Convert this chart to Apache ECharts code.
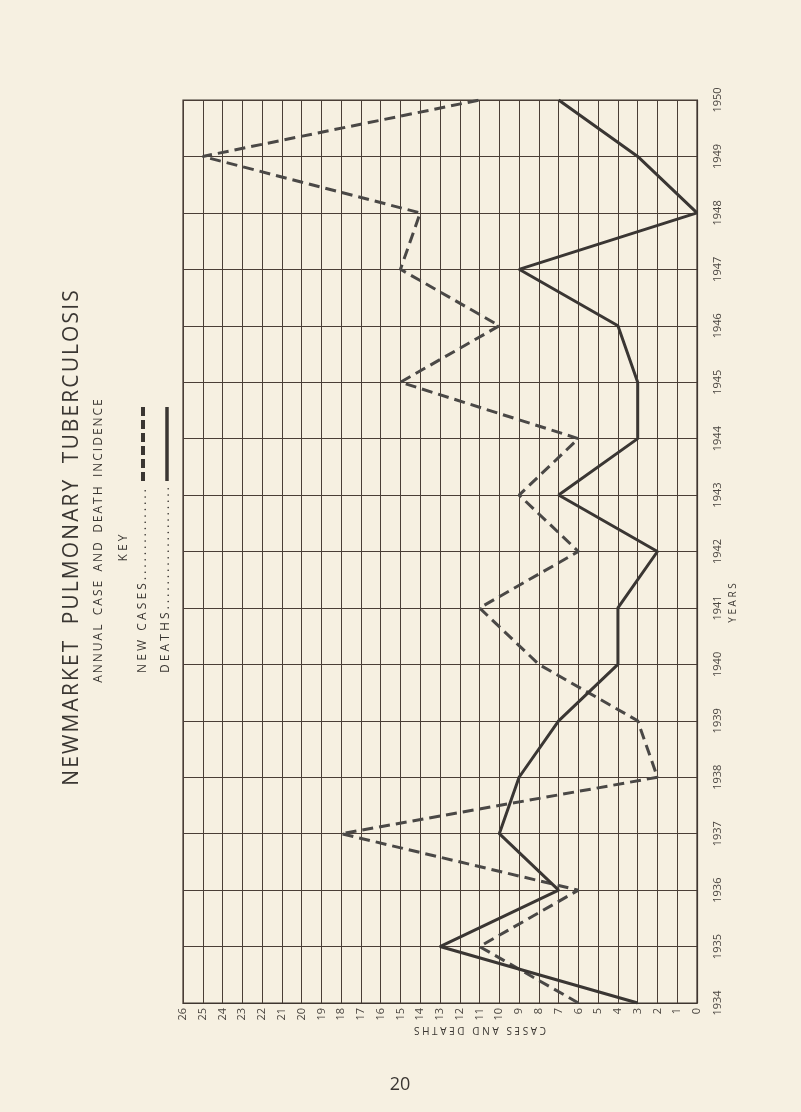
<!DOCTYPE html>
<html>
<head>
<meta charset="utf-8">
<script src="https://cdn.jsdelivr.net/npm/echarts@6/dist/echarts.min.js"></script>
<style>
html,body{margin:0;padding:0;background:#f6f0e1;}
#c{width:801px;height:1112px;}
</style>
</head>
<body>
<div id="c"></div>
<script>
const years = ['1934','1935','1936','1937','1938','1939','1940','1941','1942','1943','1944','1945','1946','1947','1948','1949','1950'];
const newCases = [6, 11, 6, 18, 2, 3, 8, 11, 6, 9, 6, 15, 10, 15, 14, 25, 11];
const deaths   = [3, 13, 7, 10, 9, 7, 4, 4, 2, 7, 3, 3, 4, 9, 0, 3, 7];

const ink = '#3a3632';
const font = '"Open Sans", "DejaVu Sans", sans-serif';
function spaced(s, sep){ return s.split('').join(sep); }

const chart = echarts.init(document.getElementById('c'), null, {renderer:'canvas'});
chart.setOption({
  backgroundColor: '#f6f0e1',
  animation: false,
  grid: {left: 183, right: 104, top: 100, bottom: 109, show: true, borderColor: '#3f3630', borderWidth: 1.2},
  xAxis: {
    type: 'value', min: 0, max: 26, interval: 1, inverse: true,
    axisLine: {show: true, lineStyle: {color: '#3f3630', width: 1.2}},
    axisTick: {show: false},
    splitLine: {show: true, lineStyle: {color: '#4a3e36', width: 1}},
    axisLabel: {rotate: 90, margin: 5, fontSize: 11, color: '#4a4540', fontFamily: font}
  },
  yAxis: {
    type: 'category', data: years, boundaryGap: false, position: 'right',
    axisLine: {show: true, lineStyle: {color: '#3f3630', width: 1.2}},
    axisTick: {show: false},
    splitLine: {show: true, lineStyle: {color: '#4a3e36', width: 1}},
    axisLabel: {rotate: 90, margin: 15, fontSize: 11, color: '#4a4540', fontFamily: font}
  },
  series: [
    {
      name: 'New cases', type: 'line', symbol: 'none',
      data: newCases.map((v, i) => [v, years[i]]),
      lineStyle: {color: '#4a4846', width: 3, type: [11, 6]}
    },
    {
      name: 'Deaths', type: 'line', symbol: 'none',
      data: deaths.map((v, i) => [v, years[i]]),
      lineStyle: {color: '#3a3633', width: 3}
    }
  ],
  graphic: [
    {type: 'text', x: 72, y: 538, rotation: Math.PI/2,
     style: {text: spaced('NEWMARKET', '\u200A') + '   ' + spaced('PULMONARY', '\u200A') + '   ' + spaced('TUBERCULOSIS', '\u200A'),
       font: '21px ' + font, fill: ink, align: 'center', verticalAlign: 'middle'}},
    {type: 'text', x: 99, y: 541, rotation: Math.PI/2,
     style: {text: spaced('ANNUAL', '\u2009') + '   ' + spaced('CASE', '\u2009') + '   ' + spaced('AND', '\u2009') + '   ' + spaced('DEATH', '\u2009') + '   ' + spaced('INCIDENCE', '\u2009'),
       font: '12px ' + font, fill: ink, align: 'center', verticalAlign: 'middle'}},
    {type: 'text', x: 124, y: 548, rotation: Math.PI/2,
     style: {text: 'K E Y', font: '12px ' + font, fill: ink, align: 'center', verticalAlign: 'middle'}},
    {type: 'text', x: 143, y: 673, rotation: Math.PI/2,
     style: {text: 'N E W   C A S E S . . . . . . . . . . . . . . .', font: '12px ' + font, fill: ink, align: 'left', verticalAlign: 'middle'}},
    {type: 'text', x: 166, y: 673, rotation: Math.PI/2,
     style: {text: 'D E A T H S . . . . . . . . . . . . . . . . . . . .', font: '12px ' + font, fill: ink, align: 'left', verticalAlign: 'middle'}},
    {type: 'line', shape: {x1: 143, y1: 481, x2: 143, y2: 407},
     style: {stroke: '#3a3632', lineWidth: 4, lineDash: [9, 4]}},
    {type: 'line', shape: {x1: 167, y1: 481, x2: 167, y2: 407},
     style: {stroke: '#3a3632', lineWidth: 3.5}},
    {type: 'text', x: 733, y: 603, rotation: Math.PI/2,
     style: {text: 'Y E A R S', font: '10px ' + font, fill: ink, align: 'center', verticalAlign: 'middle'}},
    {type: 'text', x: 480, y: 1030, rotation: Math.PI,
     style: {text: 'C A S E S   A N D   D E A T H S', font: '10px ' + font, fill: ink, align: 'center', verticalAlign: 'middle'}},
    {type: 'text', x: 400, y: 1085,
     style: {text: '20', font: '18px ' + font, fill: ink, align: 'center', verticalAlign: 'middle'}}
  ]
});
</script>
</body>
</html>
